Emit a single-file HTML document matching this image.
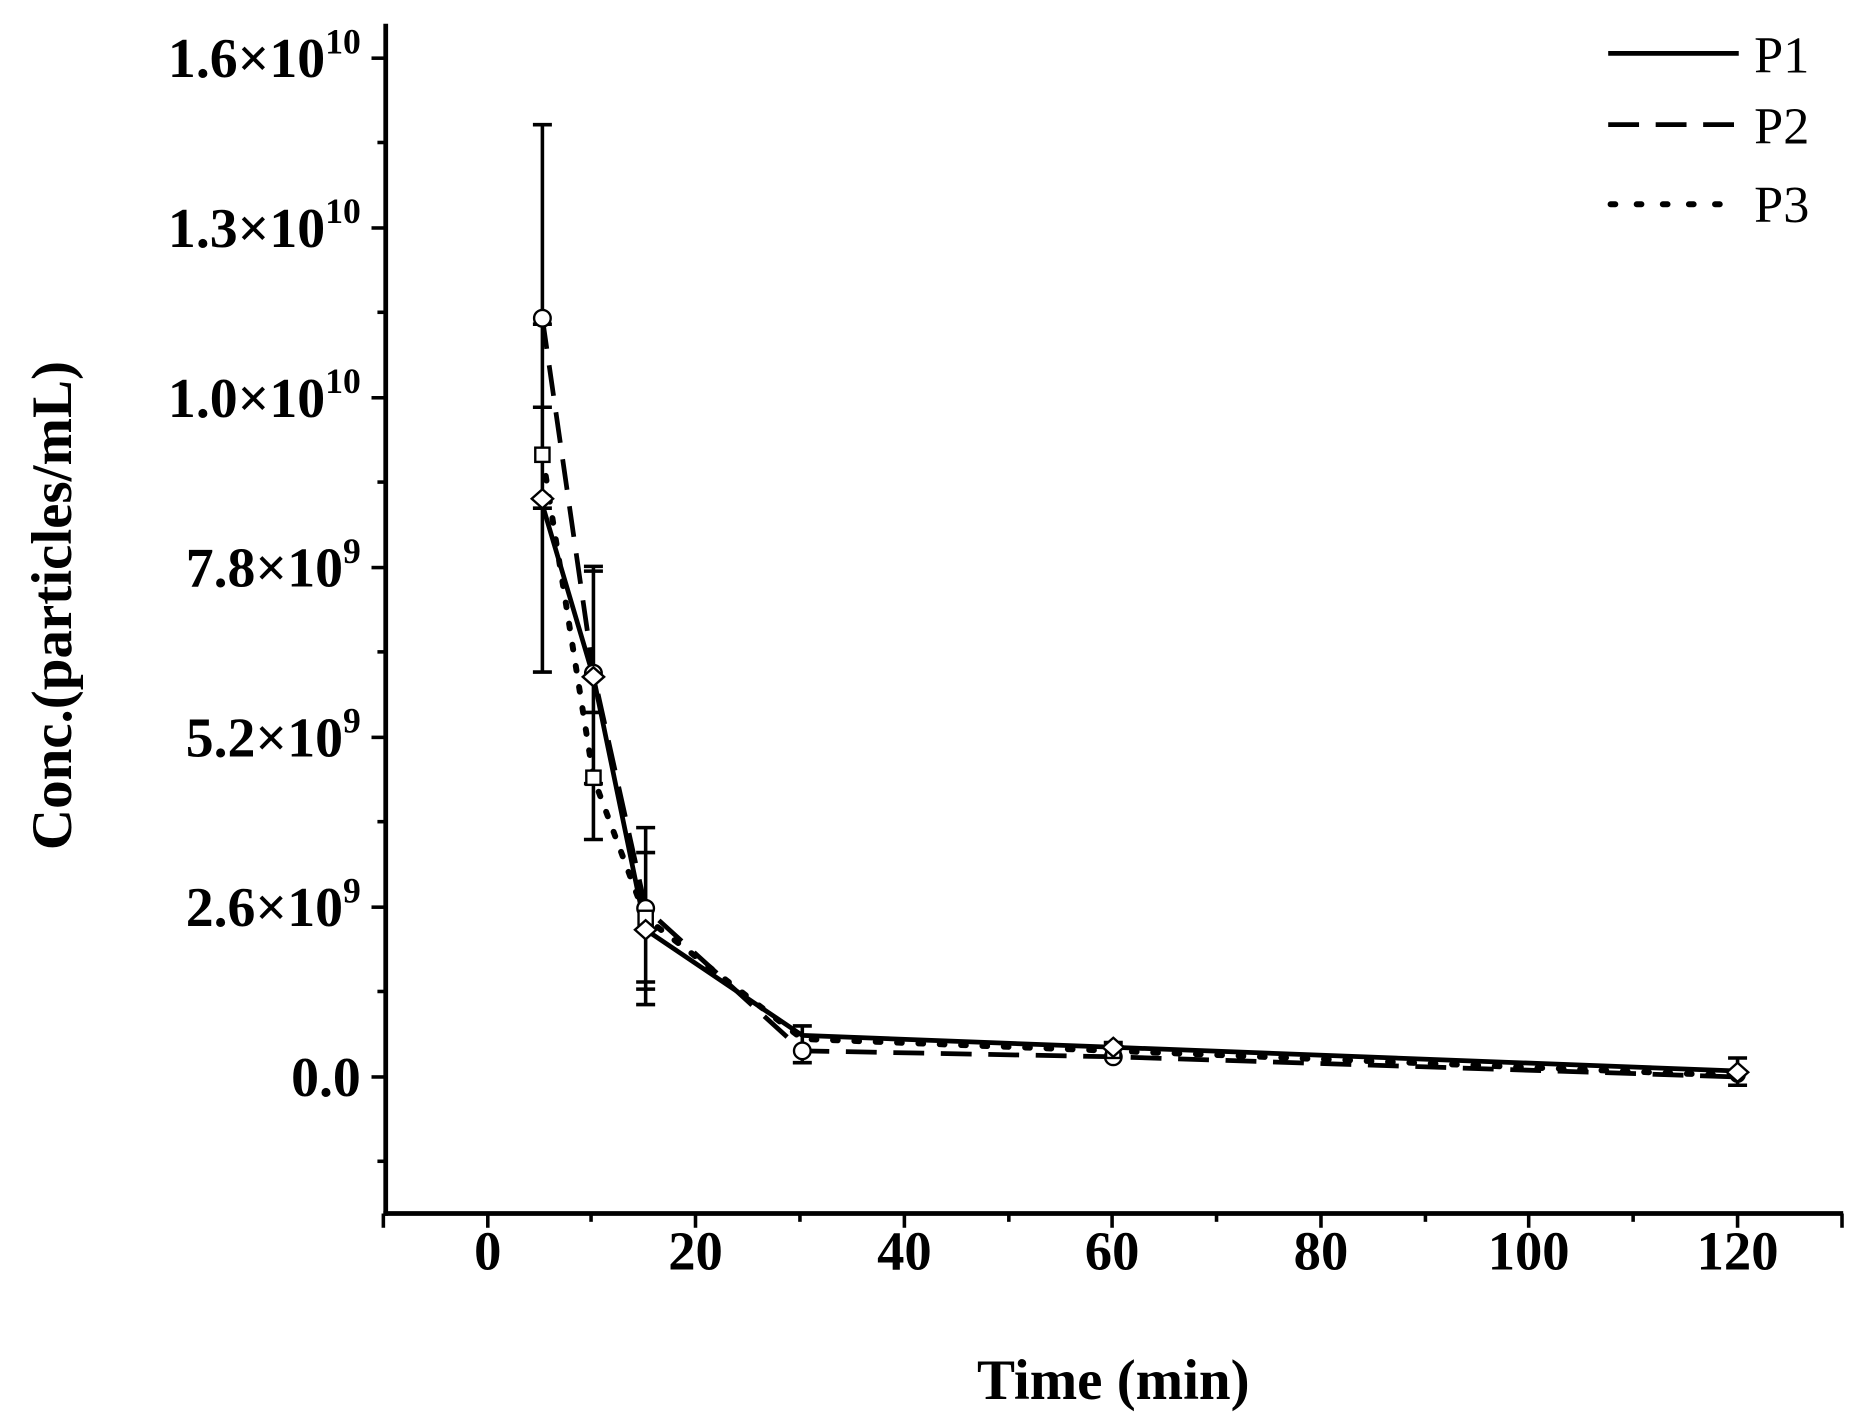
<!DOCTYPE html>
<html><head><style>body{margin:0;background:#fff}svg{display:block}</style></head><body>
<svg width="1861" height="1413" viewBox="0 0 1568 1190" preserveAspectRatio="none" xmlns="http://www.w3.org/2000/svg" font-family="Liberation Serif, serif" font-weight="bold">
<rect width="1568" height="1190" fill="#fff"/>
<g stroke="#000" stroke-width="4" fill="none">
<line x1="325" y1="20" x2="325" y2="1024"/>
<line x1="323" y1="1022" x2="1553" y2="1022"/>
</g>
<g stroke="#000" stroke-width="3">
<line x1="313" y1="907" x2="325" y2="907"/><line x1="313" y1="764" x2="325" y2="764"/><line x1="313" y1="621" x2="325" y2="621"/><line x1="313" y1="478" x2="325" y2="478"/><line x1="313" y1="335" x2="325" y2="335"/><line x1="313" y1="192" x2="325" y2="192"/><line x1="313" y1="49" x2="325" y2="49"/>
<line x1="318" y1="978" x2="325" y2="978"/><line x1="318" y1="835" x2="325" y2="835"/><line x1="318" y1="692" x2="325" y2="692"/><line x1="318" y1="549" x2="325" y2="549"/><line x1="318" y1="406" x2="325" y2="406"/><line x1="318" y1="263" x2="325" y2="263"/><line x1="318" y1="120" x2="325" y2="120"/>
<line x1="411" y1="1022" x2="411" y2="1034"/><line x1="586" y1="1022" x2="586" y2="1034"/><line x1="762" y1="1022" x2="762" y2="1034"/><line x1="937" y1="1022" x2="937" y2="1034"/><line x1="1113" y1="1022" x2="1113" y2="1034"/><line x1="1288" y1="1022" x2="1288" y2="1034"/><line x1="1464" y1="1022" x2="1464" y2="1034"/>
<line x1="323" y1="1022" x2="323" y2="1034"/><line x1="1552" y1="1022" x2="1552" y2="1034"/>
<line x1="498" y1="1022" x2="498" y2="1029"/><line x1="674" y1="1022" x2="674" y2="1029"/><line x1="850" y1="1022" x2="850" y2="1029"/><line x1="1025" y1="1022" x2="1025" y2="1029"/><line x1="1201" y1="1022" x2="1201" y2="1029"/><line x1="1376" y1="1022" x2="1376" y2="1029"/>
</g>
<g font-size="47" text-anchor="end">
<text x="304" y="923">0.0</text>
<text x="304" y="780">2.6×10<tspan dy="-20" font-size="30">9</tspan></text>
<text x="304" y="637">5.2×10<tspan dy="-20" font-size="30">9</tspan></text>
<text x="304" y="494">7.8×10<tspan dy="-20" font-size="30">9</tspan></text>
<text x="304" y="351">1.0×10<tspan dy="-20" font-size="30">10</tspan></text>
<text x="304" y="208">1.3×10<tspan dy="-20" font-size="30">10</tspan></text>
<text x="304" y="65">1.6×10<tspan dy="-20" font-size="30">10</tspan></text>
</g>
<g font-size="46" text-anchor="middle">
<text x="411" y="1069">0</text><text x="586" y="1069">20</text><text x="762" y="1069">40</text><text x="937" y="1069">60</text><text x="1113" y="1069">80</text><text x="1288" y="1069">100</text><text x="1464" y="1069">120</text>
</g>
<text x="938" y="1178" font-size="48" text-anchor="middle">Time (min)</text>
<text transform="translate(60,510) rotate(-90)" font-size="48" text-anchor="middle">Conc.(particles/mL)</text>
<g stroke="#000" stroke-width="3">
<line x1="457" y1="105" x2="457" y2="566"/><line x1="449" y1="105" x2="465" y2="105"/><line x1="449" y1="566" x2="465" y2="566"/>
<line x1="449" y1="273" x2="465" y2="273"/><line x1="449" y1="343" x2="465" y2="343"/><line x1="449" y1="428" x2="465" y2="428"/>
<line x1="500" y1="477" x2="500" y2="707"/><line x1="492" y1="477" x2="508" y2="477"/><line x1="492" y1="481" x2="508" y2="481"/><line x1="492" y1="600" x2="508" y2="600"/><line x1="492" y1="707" x2="508" y2="707"/><line x1="492" y1="660" x2="508" y2="660"/>
<line x1="544" y1="697" x2="544" y2="846"/><line x1="536" y1="697" x2="552" y2="697"/><line x1="536" y1="718" x2="552" y2="718"/><line x1="536" y1="827" x2="552" y2="827"/><line x1="536" y1="833" x2="552" y2="833"/><line x1="536" y1="846" x2="552" y2="846"/>
<line x1="676" y1="864" x2="676" y2="895"/><line x1="668" y1="864" x2="684" y2="864"/><line x1="668" y1="895" x2="684" y2="895"/>
<line x1="938" y1="876" x2="938" y2="896"/><line x1="930" y1="878" x2="946" y2="878"/>
<line x1="1464" y1="891" x2="1464" y2="914"/><line x1="1456" y1="891" x2="1472" y2="891"/><line x1="1456" y1="914" x2="1472" y2="914"/>
</g>
<g fill="none" stroke="#000" stroke-width="4">
<polyline points="457,425 500,570 544,783 676,872 938,882 1464,902"/>
<polyline stroke-dasharray="26,14" points="457,268 500,567 544,765 676,885 938,890 1464,907"/>
<polyline stroke-dasharray="4,14" stroke-linecap="round" stroke-width="5" points="457,383 500,655 544,773 676,875 938,885 1464,906"/>
</g>
<g fill="#fff" stroke="#000" stroke-width="2">
<circle cx="457" cy="268" r="7"/><circle cx="500" cy="567" r="7"/><circle cx="544" cy="765" r="7"/><circle cx="676" cy="885" r="7"/><circle cx="938" cy="890" r="7"/><circle cx="1464" cy="905" r="6"/>
<rect x="451" y="377" width="12" height="12"/><rect x="494" y="649" width="12" height="12"/><rect x="538" y="767" width="12" height="12"/><rect x="932" y="879" width="12" height="12"/>
<path d="M457,412 L466,420 L457,428 L448,420Z M500,562 L509,570 L500,578 L491,570Z M544,775 L553,783 L544,791 L535,783Z M938,874 L947,882 L938,890 L929,882Z M1464,895 L1473,903 L1464,911 L1455,903Z"/>
</g>
<g stroke="#000" stroke-width="4">
<line x1="1355" y1="45" x2="1465" y2="45"/>
<line x1="1355" y1="105" x2="1465" y2="105" stroke-dasharray="26,14"/>
<line x1="1357" y1="172" x2="1465" y2="172" stroke-dasharray="4,18" stroke-linecap="round" stroke-width="5"/>
</g>
<g font-size="44" font-weight="normal">
<text x="1478" y="61">P1</text><text x="1478" y="121">P2</text><text x="1478" y="187">P3</text>
</g>
</svg>
</body></html>
